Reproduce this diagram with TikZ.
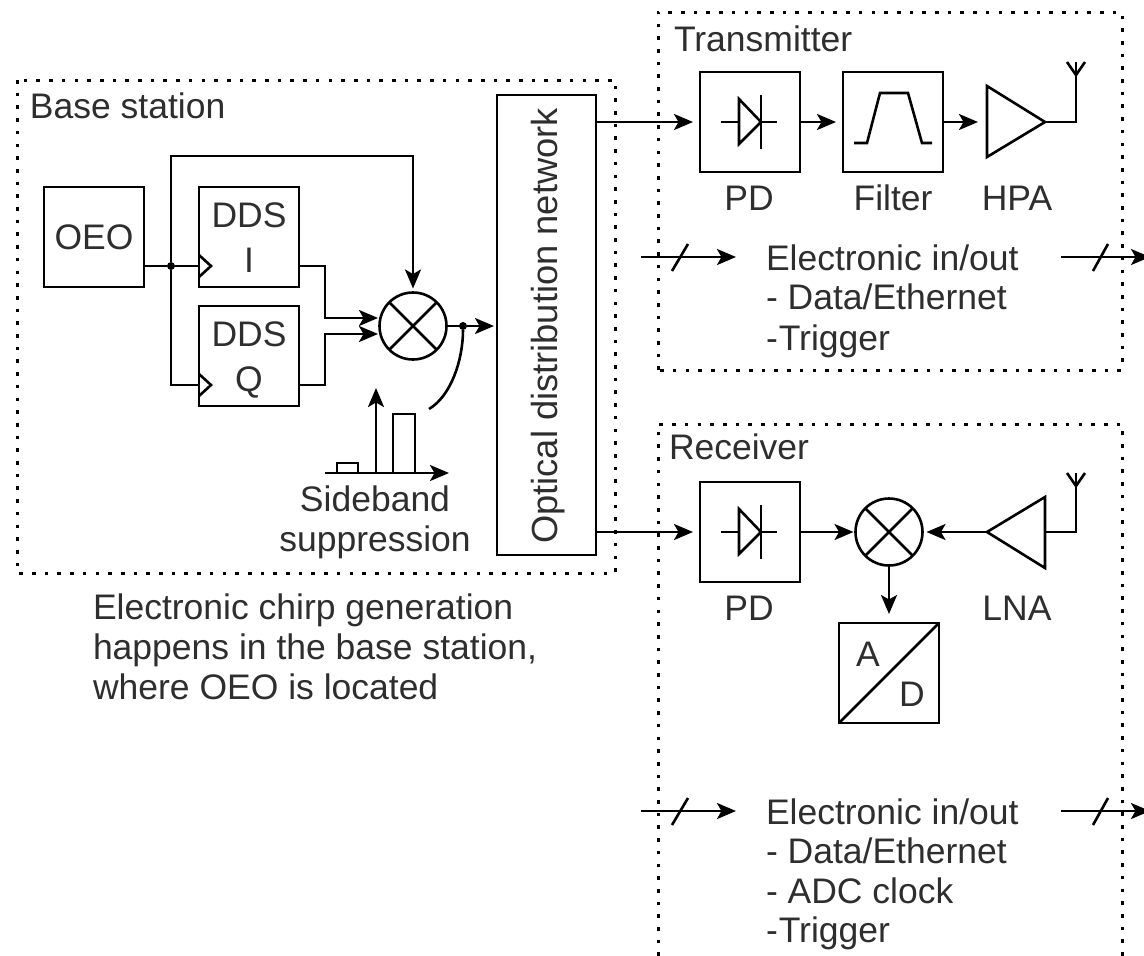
\documentclass[tikz,border=0pt]{standalone}
\usepackage{fontspec}
\setmainfont{Liberation Sans}
\usetikzlibrary{arrows.meta,calc}
\tikzset{
  x=1pt,y=-1pt,
  every node/.style={inner sep=0pt,outer sep=0pt},
  lw/.style={line width=2.6pt,line join=miter,black},
  box/.style={lw,draw,rectangle,minimum width=100pt,minimum height=100pt},
  mixer/.style={lw,draw,circle,minimum size=67pt},
  dotbox/.style={line width=3pt,dash pattern=on 3.6pt off 9.1pt,black},
  arr/.style={lw,-{Stealth[length=19pt,width=16pt,inset=4.5pt]}},
  wire/.style={lw},
  txt/.style={font=\fontsize{35.5}{40}\selectfont,text=black!82!white},
  lab/.style={txt,anchor=base west},
  ctext/.style={txt,anchor=base},
  junction/.style={circle,fill=black,minimum size=8pt},
}
\begin{document}
\begin{tikzpicture}
\useasboundingbox (0,0) rectangle (1144,956);
% dotted frames
\draw[dotbox] (17,80) rectangle (615,573);
\draw[dotbox] (658,370) -- (658,12) -- (1122,12) -- (1122,370) -- cycle;
\draw[dotbox] (658,956) -- (658,424) -- (1122,424) -- (1122,956);
% frame labels
\node[lab] (lbase) at (30,118) {Base station};
\node[lab] (ltx) at (674,51) {Transmitter};
\node[lab] (lrx) at (669,459) {Receiver};
% base station
\node[box,txt] (oeo) at (94,237) {OEO};
\node[box] (ddsi) at (249,237) {};
\node[box] (ddsq) at (249,356) {};
\node[ctext] (ddsit) at (249,227) {DDS};
\node[ctext] (ddsib) at (249,272) {I};
\node[ctext] (ddsqt) at (249,346) {DDS};
\node[ctext] (ddsqb) at (249,391) {Q};
\node[mixer] (mix) at (413,326) {};
\draw[lw] (mix.45) -- (mix.225) (mix.135) -- (mix.315);
\node[lw,draw,minimum width=99pt,minimum height=460pt] (odn) at (546.5,325) {};
\node[txt,font=\fontsize{36.3}{40}\selectfont,rotate=90,anchor=base] (odnt) at (557,326) {Optical distribution network};
\node[junction] (j1) at (171,266) {};
\node[junction] (j2) at (463,326) {};
\coordinate (ci) at (199,266);
\coordinate (cq) at (199,385);
\draw[wire] (199,255) -- (211,266) -- (199,277);
\draw[wire] (199,374) -- (211,385) -- (199,396);
\draw[wire] (oeo.east |- j1) -- (j1) -- (ci);
\draw[wire] (j1) |- (cq);
\draw[arr,shorten >=4pt] (j1) -- (171,156) -| (mix.north);
\coordinate (ioa) at (299,266);
\coordinate (qoa) at (299,385);
\coordinate (mi) at (378,318);
\coordinate (mq) at (378,334);
\draw[arr] (ioa) -- (325,266) -- (325,318) -- (mi);
\draw[arr] (qoa) -- (325,385) -- (325,334) -- (mq);
\draw[arr,shorten >=3pt] (mix.east) -- (odn.west |- mix.east);
\coordinate (cend) at (429,409);
\draw[wire] (j2) .. controls (463,360) and (451,396) .. (cend);
% spectrum
\coordinate (xa) at (325,473);
\coordinate (xb) at (449,473);
\coordinate (ya) at (376,473);
\coordinate (yb) at (376,388);
\draw[arr] (xa) -- (xb);
\draw[arr] (ya) -- (yb);
\draw[wire] (337,473) -- (337,463) -- (358,463) -- (358,473);
\draw[wire] (393,473) -- (393,414) -- (415,414) -- (415,473);
\node[ctext] (sb1) at (375,511) {Sideband};
\node[ctext] (sb2) at (375,551) {suppression};
% paragraph
\node[lab] (p1) at (93,619) {Electronic chirp generation};
\node[lab] (p2) at (93,659) {happens in the base station,};
\node[lab] (p3) at (93,699) {where OEO is located};
% transmitter
\node[box] (pdt) at (750,122) {};
\node[box] (flt) at (893,122) {};
\draw[wire] (721,122) -- (739,122) (761,122) -- (777,122);
\draw[wire] (739,99) -- (739,144) -- (761,122) -- cycle;
\draw[wire] (761,95) -- (761,149);
\draw[wire] (854,143) -- (867,143) -- (880,93) -- (908,93) -- (922,143) -- (932,143);
\coordinate (hl) at (987,122);
\coordinate (hr) at (1045,122);
\draw[wire] (987,86) -- (987,157) -- (hr) -- cycle;
\coordinate (ant1) at (1076,62);
\draw[wire] (hr) -- (1076,122) -- (ant1);
\draw[wire] (1067,62) -- (1076,75) -- (1085,62);
\draw[arr,shorten >=7pt] (odn.east |- pdt.west) -- (pdt.west);
\draw[arr,shorten >=7pt] (pdt.east) -- (flt.west);
\draw[arr,shorten >=9pt] (flt.east) -- (hl);
\node[ctext] (lpd1) at (749,210) {PD};
\node[ctext] (lfl) at (893,210) {Filter};
\node[ctext] (lhpa) at (1017,210) {HPA};
\coordinate (bta) at (641,257);
\coordinate (btb) at (736,257);
\coordinate (btc) at (1061,257);
\coordinate (btd) at (1150,257);
\draw[arr] (bta) -- (btb);
\draw[arr] (btc) -- (btd);
\draw[wire] (672,271) -- (688,244);
\draw[wire] (1093,271) -- (1108,244);
\node[lab] (t1) at (766,270) {Electronic in/out};
\node[lab] (t2) at (766,309) {- Data/Ethernet};
\node[lab] (t3) at (766,350) {\spaceskip=1pt - Trigger};
% receiver
\node[box] (pdr) at (750,532) {};
\draw[wire] (721,532) -- (739,532) (761,532) -- (777,532);
\draw[wire] (739,509) -- (739,554) -- (761,532) -- cycle;
\draw[wire] (761,505) -- (761,559);
\node[mixer] (mixr) at (889,532) {};
\draw[lw] (mixr.45) -- (mixr.225) (mixr.135) -- (mixr.315);
\coordinate (ll) at (987,532);
\coordinate (lr) at (1045,532);
\draw[wire] (ll) -- (1045,497) -- (1045,568) -- cycle;
\coordinate (ant2) at (1076,473);
\draw[wire] (lr) -- (1076,532) -- (ant2);
\draw[wire] (1067,473) -- (1076,486) -- (1085,473);
\node[box] (adc) at (889,673) {};
\draw[wire] (adc.south west) -- (adc.north east);
\node[ctext] (la) at (868,666) {A};
\node[ctext] (ld) at (912,706) {D};
\draw[arr,shorten >=7pt] (odn.east |- pdr.west) -- (pdr.west);
\draw[arr,shorten >=2pt] (pdr.east) -- (mixr.west);
\draw[arr,shorten >=4pt] (ll) -- (mixr.east);
\draw[arr,shorten >=9pt] (mixr.south) -- (adc.north);
\node[ctext] (lpd2) at (749,620) {PD};
\node[ctext] (llna) at (1017,620) {LNA};
\coordinate (bra) at (641,811);
\coordinate (brb) at (736,811);
\coordinate (brc) at (1061,811);
\coordinate (brd) at (1150,811);
\draw[arr] (bra) -- (brb);
\draw[arr] (brc) -- (brd);
\draw[wire] (672,825) -- (688,798);
\draw[wire] (1093,825) -- (1108,798);
\node[lab] (r1) at (766,824) {Electronic in/out};
\node[lab] (r2) at (766,863) {- Data/Ethernet};
\node[lab] (r3) at (766,903) {- ADC clock};
\node[lab] (r4) at (766,942) {\spaceskip=1pt - Trigger};
\end{tikzpicture}
\end{document}
